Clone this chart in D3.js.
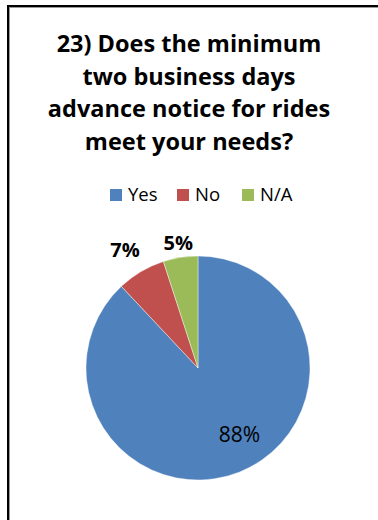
<!DOCTYPE html>
<html>
<head>
<meta charset="utf-8">
<script src="https://cdn.jsdelivr.net/npm/d3@7"></script>
<style>
  html, body { margin: 0; padding: 0; background: #fff; }
  svg { display: block; }
</style>
</head>
<body>
<script>
// Survey question 23 responses
const categories = ["Yes", "No", "N/A"];
const values = [88, 7, 5];
const colors = ["#4F81BD", "#C0504D", "#9BBB59"];
const titleLines = [
  "23) Does the minimum",
  "two business days",
  "advance notice for rides",
  "meet your needs?"
];

const W = 378, H = 520;
const svg = d3.select("body").append("svg")
  .attr("width", W).attr("height", H);

svg.append("rect").attr("width", W).attr("height", H).attr("fill", "#fff");

// Frame (runs off the right and bottom edges)
svg.append("rect")
  .attr("x", 8).attr("y", 6).attr("width", W + 20).attr("height", H + 20)
  .attr("fill", "none").attr("stroke", "#000").attr("stroke-width", 2);
svg.append("rect")
  .attr("x", 9.5).attr("y", 7.5).attr("width", W + 20).attr("height", H + 20)
  .attr("fill", "none").attr("stroke", "#999").attr("stroke-width", 1);

const font = "'Open Sans', Lato, sans-serif";

// Title
svg.append("g").selectAll("text")
  .data(titleLines)
  .join("text")
  .attr("x", 189)
  .attr("y", (d, i) => 52 + i * 32.5)
  .attr("text-anchor", "middle")
  .attr("font-family", font)
  .attr("font-weight", "bold")
  .attr("font-size", 23.5)
  .attr("fill", "#000")
  .text(d => d);

// Legend
const legendX = d3.scaleOrdinal().domain(categories).range([110, 177, 242]);
const legend = svg.append("g").selectAll("g")
  .data(categories)
  .join("g")
  .attr("transform", d => `translate(${legendX(d)},189)`);
legend.append("rect")
  .attr("width", 12).attr("height", 12)
  .attr("fill", (d, i) => colors[i]);
legend.append("text")
  .attr("x", 18).attr("y", 12)
  .attr("font-family", font)
  .attr("font-size", 18.5)
  .attr("fill", "#000")
  .text(d => d);

// Pie
const cx = 198, cy = 368, r = 112;
const pie = d3.pie().sort(null).value(d => d.value);
const arcs = pie(categories.map((c, i) => ({ name: c, value: values[i], color: colors[i] })));
const arc = d3.arc().innerRadius(0).outerRadius(r);

const g = svg.append("g").attr("transform", `translate(${cx},${cy})`);
g.selectAll("path")
  .data(arcs)
  .join("path")
  .attr("d", arc)
  .attr("fill", d => d.data.color)
  .attr("stroke", "#fff")
  .attr("stroke-width", 0.4);

// Data labels: the big slice's label sits inside, the small ones outside the rim
const labelRadius = [0.70, 1.24, 1.13];   // fraction of pie radius
const labelAngleShift = [-0.18, -0.02, 0]; // radians off the slice middle
const labelSize = [21, 20, 20];
const labelWeight = ["normal", "bold", "bold"];
g.selectAll("text.lbl")
  .data(arcs)
  .join("text")
  .attr("class", "lbl")
  .attr("transform", (d, i) => {
    const a = (d.startAngle + d.endAngle) / 2 + labelAngleShift[i];
    const rr = r * labelRadius[i];
    return `translate(${rr * Math.sin(a)},${-rr * Math.cos(a)})`;
  })
  .attr("text-anchor", "middle")
  .attr("dy", "0.36em")
  .attr("font-family", font)
  .attr("font-weight", (d, i) => labelWeight[i])
  .attr("font-size", (d, i) => labelSize[i])
  .attr("fill", "#000")
  .text(d => d.data.value + "%");
</script>
</body>
</html>
